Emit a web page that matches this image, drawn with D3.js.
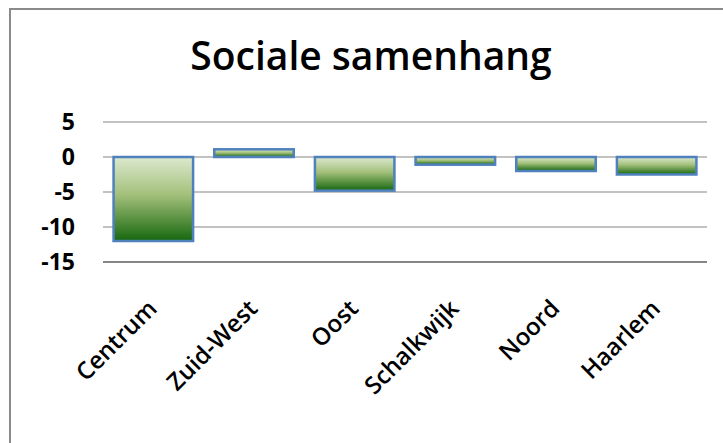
<!DOCTYPE html>
<html>
<head>
<meta charset="utf-8">
<script src="https://cdn.jsdelivr.net/npm/d3@7"></script>
<style>
  body { margin: 0; background: #fff; }
  text { font-family: "Open Sans", "DejaVu Sans", sans-serif; }
</style>
</head>
<body>
<div id="chart"></div>
<script>
// wijken en scores
var categories = ["Centrum", "Zuid-West", "Oost", "Schalkwijk", "Noord", "Haarlem"];
var values = [-12, 1.1, -4.8, -1.1, -2, -2.5];
var yTicks = [5, 0, -5, -10, -15];
var title = "Sociale samenhang";

var W = 723, H = 443;
var margin = {top: 122, right: 16, bottom: 181, left: 103},
    width = W - margin.left - margin.right,
    height = H - margin.top - margin.bottom;

var svg = d3.select("#chart")
    .append("svg")
    .attr("width", W)
    .attr("height", H);

// gradient voor de balken
var grad = svg.append("defs").append("linearGradient")
    .attr("id", "groen")
    .attr("x1", 0).attr("y1", 0).attr("x2", 0).attr("y2", 1);
grad.append("stop").attr("offset", "0%").attr("stop-color", "#dce9cf");
grad.append("stop").attr("offset", "45%").attr("stop-color", "#a3c07a");
grad.append("stop").attr("offset", "100%").attr("stop-color", "#17670f");

// rand van het kader
svg.append("line")
    .attr("x1", 10).attr("x2", 10).attr("y1", 9).attr("y2", H)
    .attr("stroke", "#8a8a8a").attr("stroke-width", 2);
svg.append("line")
    .attr("x1", 9).attr("x2", W).attr("y1", 9).attr("y2", 9)
    .attr("stroke", "#8a8a8a").attr("stroke-width", 2);

svg.append("text")
    .attr("x", 371)
    .attr("y", 70)
    .attr("text-anchor", "middle")
    .style("font-size", "39px")
    .style("font-weight", "600")
    .text(title);

var g = svg.append("g")
    .attr("transform", "translate(" + margin.left + "," + margin.top + ")");

var x = d3.scaleBand()
    .domain(categories)
    .range([0, width])
    .paddingInner(0.21)
    .paddingOuter(0.105);

var y = d3.scaleLinear()
    .domain([-15, 5])
    .range([height, 0]);

// rasterlijnen
g.selectAll(".grid")
    .data(yTicks)
    .enter()
    .append("line")
    .attr("x1", 0)
    .attr("x2", width)
    .attr("y1", function(d) { return y(d); })
    .attr("y2", function(d) { return y(d); })
    .attr("stroke", "#868686")
    .attr("stroke-width", function(d) { return d == -15 ? 2 : 1.2; });

// y-as labels
g.selectAll(".ylab")
    .data(yTicks)
    .enter()
    .append("text")
    .attr("x", -28)
    .attr("y", function(d) { return y(d); })
    .attr("dy", "0.36em")
    .attr("text-anchor", "end")
    .style("font-size", "23px")
    .style("font-weight", "bold")
    .text(function(d) { return d; });

// balken
g.selectAll("rect")
    .data(values)
    .enter()
    .append("rect")
    .attr("x", function(d, i) { return x(categories[i]); })
    .attr("y", function(d) { return y(Math.max(0, d)); })
    .attr("width", x.bandwidth())
    .attr("height", function(d) { return Math.abs(y(d) - y(0)); })
    .attr("fill", "url(#groen)")
    .attr("stroke", "#4f81bd")
    .attr("stroke-width", 2.5);

// categorie labels, schuin
g.selectAll(".xlab")
    .data(categories)
    .enter()
    .append("text")
    .attr("transform", function(d) {
        var cx = x(d) + x.bandwidth() / 2 + 5;
        return "translate(" + cx + "," + (height + 48) + ") rotate(-45)";
    })
    .attr("text-anchor", "end")
    .style("font-size", "24px")
    .style("font-weight", "600")
    .text(function(d) { return d; });
</script>
</body>
</html>
